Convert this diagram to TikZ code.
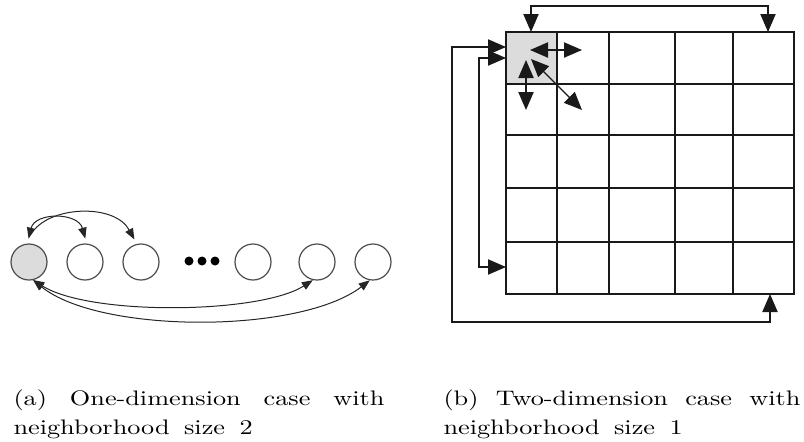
\documentclass[tikz,border=0pt]{standalone}
\usetikzlibrary{arrows.meta}
\definecolor{cellgrey}{RGB}{220,220,220}
\begin{document}
\begin{tikzpicture}[x=0.5pt,y=-0.5pt,
  circ/.style={circle,draw=black!70,line width=0.6pt,minimum size=18pt,inner sep=0pt},
  dotnode/.style={circle,fill=black,minimum size=4.5pt,inner sep=0pt},
  smalllink/.style={line width=0.5pt,draw=black!85},
  smallhead/.style={-{Triangle[length=5.5pt,width=4.2pt]}},
  smallboth/.style={{Triangle[length=5.5pt,width=4.2pt]}-{Triangle[length=5.5pt,width=4.2pt]}},
  gridline/.style={line width=0.9pt,draw=black!90},
  biglink/.style={line width=0.7pt,draw=black!90},
  bigboth/.style={{Triangle[length=9pt,width=7.6pt]}-{Triangle[length=9pt,width=7.6pt]}},
  captext/.style={anchor=base west,inner sep=0pt,xscale=1.25,transform shape,font=\fontsize{10.5}{14.5}\selectfont}
]
\useasboundingbox (0,0) rectangle (804,441);

% ---------- (a) one-dimensional ring ----------
\node[circ,fill=cellgrey] (c1) at (29,262) {};
\node[circ] (c2) at (85,262) {};
\node[circ] (c3) at (141,262) {};
\node[circ] (c4) at (253,262) {};
\node[circ] (c5) at (317,262) {};
\node[circ] (c6) at (373,262) {};
\node[dotnode] (d1) at (189,261) {};
\node[dotnode] (d2) at (202,261) {};
\node[dotnode] (d3) at (215,261) {};

\coordinate (o1) at (35,229);
\draw[smalllink,smallboth,shorten <=2.5pt,shorten >=2.5pt]
  (c1.95) .. controls (35,212) and (78,212) .. (c2.85);
\draw[smalllink,smallhead,shorten >=2.5pt]
  (o1) .. controls (55,206) and (115,204) .. (c3.103);
\draw[smalllink,smallboth]
  (c1.-77) .. controls (90,316) and (260,314) .. (c5.-103);
\draw[smalllink,smallboth]
  (c1.-77) .. controls (100,334) and (300,334) .. (c6.-100);

% ---------- (b) two-dimensional torus grid ----------
\fill[cellgrey] (506,32) rectangle (557,84);
\draw[gridline] (506,32) rectangle (794,294);
\foreach \x in {557,609,675,733} \draw[gridline] (\x,32) -- (\x,294);
\foreach \y in {84,135,188,242} \draw[gridline] (506,\y) -- (794,\y);

% arrow end points
\coordinate (tA) at (531,32);
\coordinate (tB) at (768,32);
\coordinate (lA) at (506,47);
\coordinate (bA) at (770,294);
\coordinate (lB) at (506,58);
\coordinate (lC) at (506,267);
\coordinate (hA) at (530,50);
\coordinate (hB) at (582,50);
\coordinate (vA) at (526,60);
\coordinate (vB) at (526,110);
\coordinate (xA) at (531,59);
\coordinate (xB) at (582,110);

\draw[biglink,bigboth] (tA) -- (531,6) -- (768,6) -- (tB);
\draw[biglink,bigboth] (lA) -- (452,47) -- (452,322) -- (770,322) -- (bA);
\draw[biglink,bigboth] (lB) -- (479,58) -- (479,267) -- (lC);
\draw[biglink,bigboth] (hA) -- (hB);
\draw[biglink,bigboth] (vA) -- (vB);
\draw[biglink,bigboth] (xA) -- (xB);

% ---------- captions ----------
\node[captext] (ca1) at (13,405) {\hbox to 148.4pt{(a)\hfill One-dimension\hfill case\hfill with}};
\node[captext] (ca2) at (13,434) {neighborhood\hspace{0.55em}size\hspace{0.55em}2};
\node[captext] (cb1) at (443,405) {\hbox to 142.8pt{(b)\hfill Two-dimension\hfill case\hfill with}};
\node[captext] (cb2) at (443,434) {neighborhood\hspace{0.55em}size\hspace{0.55em}1};
\end{tikzpicture}
\end{document}
